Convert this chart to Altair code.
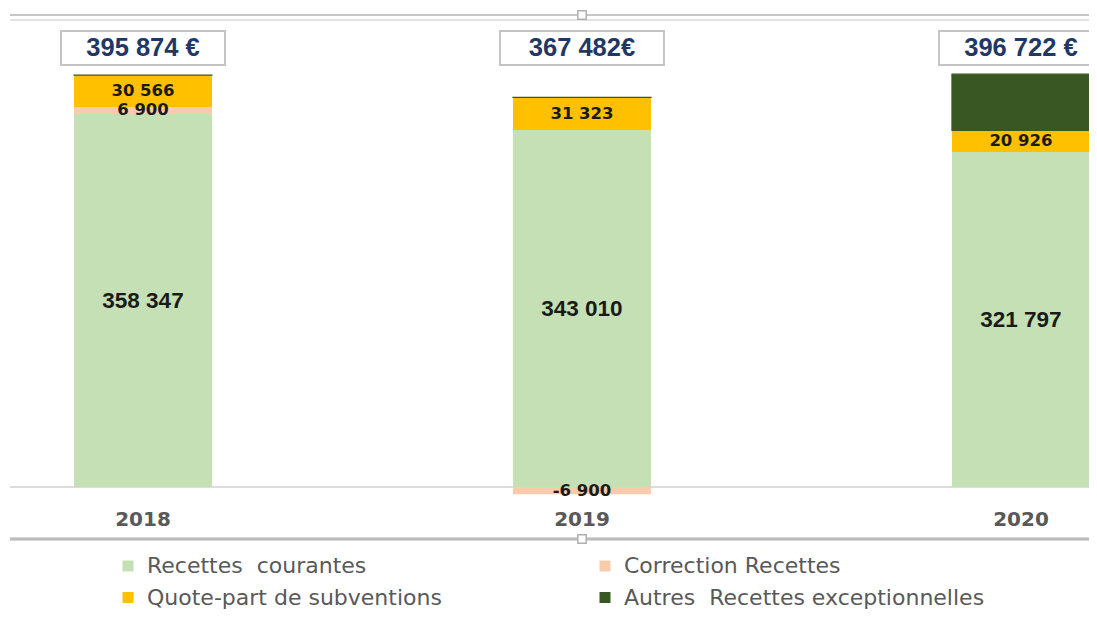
import altair as alt
import pandas as pd

# ---------------- data ----------------
years = [2018, 2019, 2020]
series_names = [
    "Recettes\u00a0 courantes",
    "Correction Recettes",
    "Quote-part de subventions",
    "Autres\u00a0 Recettes exceptionnelles",
]
recettes_courantes = [358347, 343010, 321797]
correction_recettes = [6900, -6900, 0]
quote_part_subventions = [30566, 31323, 20926]
autres_recettes_exceptionnelles = [61, 49, 53999]
total_labels = ["395 874 €", "367 482€", "396 722 €"]
series_colors = ["#C5E0B4", "#F8CBAD", "#FFC000", "#385723"]

# ---------------- tables ----------------
series_values = [recettes_courantes, correction_recettes,
                 quote_part_subventions, autres_recettes_exceptionnelles]
rows = []
for si, (name, vals) in enumerate(zip(series_names, series_values)):
    for yr, v in zip(years, vals):
        show = (v != 0) and si != 3
        rows.append({
            "year": yr,
            "series": name,
            "ord": si,
            "value": v,
            "label": f"{v:,}".replace(",", " ") if show else "",
            "show": show,
            "big": si == 0,
        })
df = pd.DataFrame(rows)
totals = pd.DataFrame({"year": years, "text": total_labels})
years_df = pd.DataFrame({"year": years, "text": [str(y) for y in years]})

W, H = 1081, 603
x_scale = alt.Scale(domain=[2017.6925, 2020.155], nice=False, zero=False, padding=0)
y_scale = alt.Scale(domain=[-119151, 460267], nice=False, zero=False, padding=0)
X = alt.X("year:Q", scale=x_scale, axis=None)

bars = alt.Chart(df).mark_bar(size=138).encode(
    x=X,
    y=alt.Y("value:Q", stack="zero", scale=y_scale, axis=None),
    color=alt.Color(
        "series:N",
        scale=alt.Scale(domain=series_names, range=series_colors),
        sort=series_names,
        legend=alt.Legend(
            title=None, orient="none", legendX=109, legendY=547,
            direction="horizontal", columns=2, symbolType="square",
            symbolSize=121, symbolStrokeWidth=0, labelFont="DejaVu Sans",
            labelFontSize=22, labelColor="#595959", labelOffset=8,
            columnPadding=152, rowPadding=9.5, padding=0, labelLimit=600,
        ),
    ),
    stroke=alt.condition("datum.ord == 3", alt.value("#385723"), alt.value("transparent")),
    strokeWidth=alt.condition("datum.ord == 3", alt.value(1.2), alt.value(0)),
    order=alt.Order("ord:Q", sort="ascending"),
)

stacked = alt.Chart(df).transform_stack(
    stack="value", groupby=["year"], as_=["v0", "v1"],
    sort=[alt.SortField("ord", order="ascending")],
).transform_calculate(mid="(datum.v0 + datum.v1) / 2").transform_filter("datum.show")

big_labels = stacked.transform_filter("datum.big").mark_text(
    font="Liberation Sans", fontWeight="bold", fontSize=22.5,
    color="#1a1a1a", baseline="middle",
).encode(x=X, y=alt.Y("mid:Q", scale=y_scale, axis=None), text="label:N")

small_labels = stacked.transform_filter("!datum.big").mark_text(
    font="DejaVu Sans", fontWeight="bold", fontSize=16.5,
    color="#1a1a1a", baseline="middle",
).encode(x=X, y=alt.Y("mid:Q", scale=y_scale, axis=None), text="label:N")

box_path = "M-1,-0.2073H1V0.2073H-1Z"
boxes = alt.Chart(totals).mark_point(
    shape=box_path, size=164 * 164, filled=True, fill="white",
    stroke="#c4c4c4", strokeWidth=2, opacity=1,
).encode(x=X, y=alt.value(40))

total_text = alt.Chart(totals).mark_text(
    font="Liberation Sans", fontWeight="bold", fontSize=25.5,
    color="#1F3864", baseline="middle",
).encode(x=X, y=alt.value(40), text="text:N")

year_text = alt.Chart(years_df).mark_text(
    font="DejaVu Sans", fontWeight="bold", fontSize=20,
    color="#595959", baseline="middle",
).encode(x=X, y=alt.value(512), text="text:N")

baseline = alt.Chart(totals).mark_rule(color="#d9d9d9", strokeWidth=1).encode(
    x=alt.value(2), x2=alt.value(W), y=alt.Y(datum=0, scale=y_scale, axis=None)
)

frame_top1 = alt.Chart(totals).mark_rule(color="#c6c6c6", strokeWidth=2).encode(
    x=alt.value(2), x2=alt.value(W), y=alt.value(7))
frame_top2 = alt.Chart(totals).mark_rule(color="#e2e2e2", strokeWidth=1.5).encode(
    x=alt.value(2), x2=alt.value(W), y=alt.value(12))
frame_mid = alt.Chart(totals).mark_rule(color="#bdbdbd", strokeWidth=2.5).encode(
    x=alt.value(2), x2=alt.value(W), y=alt.value(531))
handles = alt.Chart(pd.DataFrame({"hy": [7, 531]})).mark_point(
    shape="square", size=70, filled=True, fill="white",
    stroke="#b0b0b0", strokeWidth=1.5, opacity=1,
).encode(
    x=alt.value(574),
    y=alt.Y("hy:Q", scale=alt.Scale(domain=[0, H], range=[0, H], nice=False, zero=False), axis=None),
)

chart = alt.layer(
    frame_top1, frame_top2, frame_mid, baseline, bars,
    big_labels, small_labels, boxes, total_text, year_text, handles,
).resolve_scale(y="independent").properties(
    width=W, height=H, padding=0, autosize=alt.AutoSizeParams(type="none"),
).configure_view(stroke=None)

chart.save("out.html", embed_options={"renderer": "svg", "actions": False})
